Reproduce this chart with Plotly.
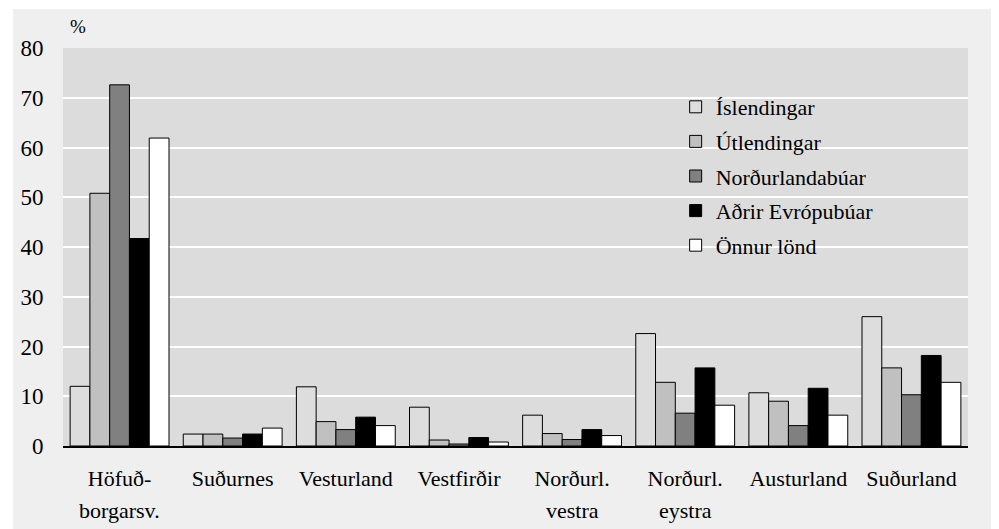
import plotly.graph_objects as go

categories = ["Höfuð-", "Suðurnes", "Vesturland", "Vestfirðir", "Norðurl.", "Norðurl.", "Austurland", "Suðurland"]
cat_keys = ["hofud", "sudurnes", "vesturland", "vestfirdir", "nv", "ne", "austurland", "sudurland"]
second_lines = {"hofud": "borgarsv.", "nv": "vestra", "ne": "eystra"}

series_names = ["Íslendingar", "Útlendingar", "Norðurlandabúar", "Aðrir Evrópubúar", "Önnur lönd"]
islendingar = [12.0, 2.4, 11.9, 7.8, 6.2, 22.6, 10.7, 26.0]
utlendingar = [50.8, 2.4, 4.9, 1.2, 2.5, 12.8, 9.0, 15.7]
nordurlandabuar = [72.6, 1.6, 3.3, 0.4, 1.3, 6.6, 4.1, 10.3]
adrir_evropubuar = [41.7, 2.4, 5.8, 1.7, 3.3, 15.7, 11.6, 18.2]
onnur_lond = [61.9, 3.6, 4.1, 0.8, 2.1, 8.2, 6.2, 12.8]
series_values = [islendingar, utlendingar, nordurlandabuar, adrir_evropubuar, onnur_lond]
colors = ["#dddddd", "#c0c0c0", "#808080", "#000000", "#ffffff"]

FONT = "Liberation Serif"

fig = go.Figure()
for i, (name, vals, col) in enumerate(zip(series_names, series_values, colors)):
    fig.add_trace(go.Bar(
        x=cat_keys, y=vals, name=name,
        marker=dict(color=col, line=dict(color="#000000", width=1)),
        legendgroup=f"g{i}",
    ))

# page has an 8px body margin; reference pixel coords are shifted by OFF
OFF = 8
W, H = 999 - OFF, 529 - OFF
L, R, T, B = 61 - OFF, 968 - OFF, 48 - OFF, 446 - OFF
def px(xp):
    return (xp - OFF - L) / (R - L)
def py(yp):
    return (B - (yp - OFF)) / (B - T)

shapes = [
    dict(type="rect", xref="paper", yref="paper", x0=px(0), x1=px(1010), y0=py(9), y1=py(0),
         fillcolor="white", line_width=0, layer="below"),
    dict(type="rect", xref="paper", yref="paper", x0=px(0), x1=px(11), y0=py(540), y1=py(0),
         fillcolor="white", line_width=0, layer="below"),
    dict(type="rect", xref="paper", yref="paper", x0=px(995), x1=px(1010), y0=py(540), y1=py(0),
         fillcolor="white", line_width=0, layer="below"),
    # legend box covering gridlines
    dict(type="rect", xref="paper", yref="paper", x0=px(661), x1=px(910), y0=py(280), y1=py(88),
         fillcolor="#dcdcdc", line_width=0, layer="between"),
]

annotations = [
    dict(text="%", xref="paper", yref="paper", x=px(76), y=py(26), showarrow=False,
         font=dict(family=FONT, size=19, color="#000"), xanchor="center", yanchor="middle"),
]
for k in cat_keys:
    if k in second_lines:
        annotations.append(dict(text=second_lines[k], x=k, xref="x", yref="paper", y=py(510),
                                showarrow=False, xanchor="center", yanchor="middle",
                                font=dict(family=FONT, size=22, color="#000")))

fig.update_layout(
    width=W, height=H,
    margin=dict(l=L, r=W - R, t=T, b=H - B, pad=0),
    paper_bgcolor="#efefef",
    plot_bgcolor="#dcdcdc",
    barmode="group",
    bargap=0.126,
    bargroupgap=0,
    font=dict(family=FONT, size=22, color="#000"),
    showlegend=True,
    legend=dict(
        x=px(675), y=py(86), xanchor="left", yanchor="top",
        bgcolor="rgba(0,0,0,0)", borderwidth=0,
        font=dict(family=FONT, size=22, color="#000"),
        traceorder="grouped", tracegroupgap=3,
        itemwidth=30,
    ),
    shapes=shapes,
    annotations=annotations,
)
fig.update_xaxes(
    tickmode="array", tickvals=cat_keys, ticktext=categories,
    showline=True, linecolor="#000000", linewidth=1.5,
    showgrid=False, ticks="outside", ticklen=12, tickcolor="rgba(0,0,0,0)",
    tickfont=dict(family=FONT, size=22, color="#000"),
)
fig.update_yaxes(
    range=[0, 80], dtick=10, tick0=0,
    showgrid=True, gridcolor="#ffffff", gridwidth=2,
    zeroline=False, showline=False,
    ticks="outside", ticklen=14, tickcolor="rgba(0,0,0,0)",
    tickfont=dict(family=FONT, size=23, color="#000"),
)

fig.write_html("out.html")
